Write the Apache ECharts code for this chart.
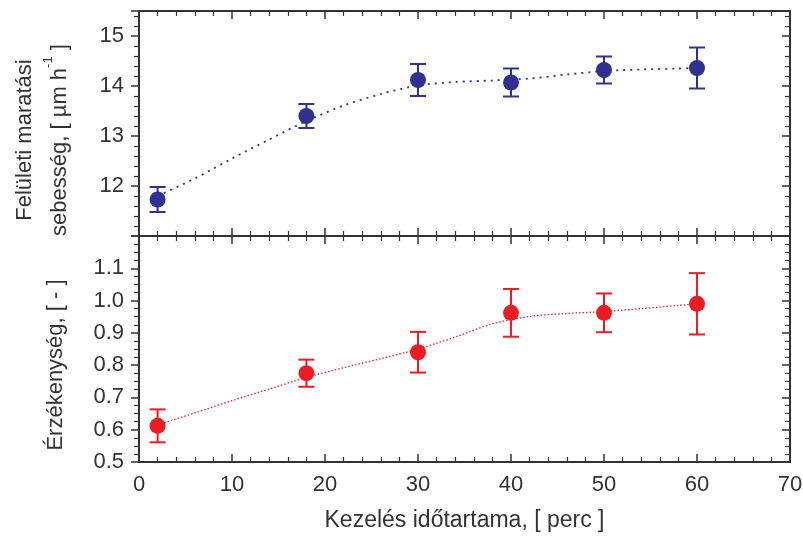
<!DOCTYPE html>
<html lang="hu" style="height: 100%">
<head>
  <meta charset="utf-8">
</head>
<body style="height: 100%; margin: 0; background: #fff">
  <div id="container" style="width: 803px; height: 536px"></div>

  <script type="text/javascript" src="https://fastly.jsdelivr.net/npm/echarts@6/dist/echarts.min.js"></script>
  <script type="text/javascript">
    // mért pontok
    var timeVals = [2, 18, 30, 40, 50, 60];
    var rateVals = [11.73, 13.40, 14.12, 14.07, 14.32, 14.36];
    var rateErr = [0.25, 0.24, 0.32, 0.28, 0.27, 0.41];
    var sensVals = [0.612, 0.775, 0.84, 0.962, 0.962, 0.99];
    var sensErr = [0.051, 0.042, 0.063, 0.074, 0.06, 0.095];

    // illesztett görbék
    var fitX = [2, 6, 10, 14, 18, 22, 26, 30, 34, 38, 42, 46, 50, 54, 58, 60];
    var rateFit = [11.80, 12.15, 12.55, 12.93, 13.30, 13.61, 13.84, 14.01, 14.08, 14.11, 14.15, 14.23, 14.30, 14.33, 14.35, 14.36];
    var sensFit = [0.615, 0.652, 0.69, 0.726, 0.762, 0.792, 0.82, 0.85, 0.887, 0.928, 0.951, 0.96, 0.966, 0.975, 0.985, 0.99];

    var blue = '#2e3192';
    var red = '#ed1c24';
    var ink = '#333333';
    var font = 'Liberation Sans, Arial, sans-serif';

    var dom = document.getElementById('container');
    var myChart = echarts.init(dom, null, { renderer: 'canvas' });

    function pairs(xs, ys) {
      return xs.map(function (x, i) { return [x, ys[i]]; });
    }
    function errData(xs, ys, es) {
      return xs.map(function (x, i) { return [x, ys[i] - es[i], ys[i] + es[i]]; });
    }

    function errorBar(color) {
      return function (params, api) {
        var x = api.value(0);
        var lo = api.coord([x, api.value(1)]);
        var hi = api.coord([x, api.value(2)]);
        var w = 8;
        var st = { stroke: color, lineWidth: 2 };
        return {
          type: 'group',
          children: [
            { type: 'line', shape: { x1: hi[0], y1: hi[1], x2: lo[0], y2: lo[1] }, style: st },
            { type: 'line', shape: { x1: hi[0] - w, y1: hi[1], x2: hi[0] + w, y2: hi[1] }, style: st },
            { type: 'line', shape: { x1: lo[0] - w, y1: lo[1], x2: lo[0] + w, y2: lo[1] }, style: st }
          ]
        };
      };
    }

    var lineAx = { show: true, onZero: false, lineStyle: { color: ink, width: 2 } };

    function xAx(grid, pos, labels) {
      return {
        type: 'value', gridIndex: grid, position: pos,
        min: 0, max: 70, interval: 10,
        axisLine: lineAx,
        axisTick: { show: true, inside: true, length: 8, lineStyle: { color: ink, width: 1.5 } },
        minorTick: { show: true, splitNumber: 5, length: 5, lineStyle: { color: ink, width: 1.2 } },
        splitLine: { show: false },
        axisLabel: { show: labels, color: ink, fontSize: 22, fontFamily: font, margin: 12 },
        name: labels ? 'Kezelés időtartama, [ perc ]' : '',
        nameLocation: 'middle',
        nameGap: 47,
        nameTextStyle: { color: ink, fontSize: 23, fontFamily: font }
      };
    }

    function yAx(grid, pos, opts) {
      var left = pos === 'left';
      return Object.assign({
        type: 'value', gridIndex: grid, position: pos,
        axisLine: lineAx,
        axisTick: { show: true, inside: !left, length: 8, lineStyle: { color: ink, width: 1.5 } },
        splitLine: { show: false },
        nameLocation: 'middle'
      }, opts);
    }

    var option = {
      animation: false,
      backgroundColor: '#ffffff',
      grid: [
        { left: 139, right: 13, top: 11, height: 225, containLabel: false, outerBoundsMode: 'none' },
        { left: 139, right: 13, top: 236, height: 226, containLabel: false, outerBoundsMode: 'none' }
      ],
      xAxis: [
        xAx(0, 'bottom', false),
        xAx(0, 'top', false),
        xAx(1, 'bottom', true),
        xAx(1, 'top', false)
      ],
      yAxis: [
        yAx(0, 'left', {
          min: 11, max: 15.5, interval: 1,
          minorTick: { show: true, splitNumber: 5, length: 5, lineStyle: { color: ink, width: 1.2 } },
          axisLabel: { color: ink, fontSize: 22, fontFamily: font, margin: 15, showMinLabel: false, showMaxLabel: false },
          name: '{a|Felületi maratási}\n{a|sebesség, [ µm h}{s|-1}{a| ]}',
          nameGap: 62,
          nameTextStyle: {
            color: ink, fontFamily: font, lineHeight: 35, padding: [0, 33, 0, 0],
            rich: {
              a: { fontSize: 22, fontFamily: font, color: ink, lineHeight: 35 },
              s: { fontSize: 13, fontFamily: font, color: ink, verticalAlign: 'top', lineHeight: 35, padding: [0, 0, 16, 0] }
            }
          }
        }),
        yAx(0, 'right', {
          min: 11, max: 15.5, interval: 1,
          minorTick: { show: true, splitNumber: 5, length: 5, lineStyle: { color: ink, width: 1.2 } },
          axisLabel: { show: false }
        }),
        yAx(1, 'left', {
          min: 0.5, max: 1.2, interval: 0.1,
          minorTick: { show: true, splitNumber: 4, length: 5, lineStyle: { color: ink, width: 1.2 } },
          axisLabel: {
            color: ink, fontSize: 22, fontFamily: font, margin: 15, showMaxLabel: false,
            formatter: function (v) { return v.toFixed(1); }
          },
          name: 'Érzékenység, [ - ]',
          nameGap: 72,
          nameTextStyle: { color: ink, fontSize: 22, fontFamily: font, padding: [0, 32, 0, 0] }
        }),
        yAx(1, 'right', {
          min: 0.5, max: 1.2, interval: 0.1,
          minorTick: { show: true, splitNumber: 4, length: 5, lineStyle: { color: ink, width: 1.2 } },
          axisLabel: { show: false }
        })
      ],
      series: [
        {
          type: 'line', xAxisIndex: 0, yAxisIndex: 0, smooth: 0.3, showSymbol: false,
          data: pairs(fitX, rateFit),
          lineStyle: { color: blue, width: 1.8, type: [2, 5] }, z: 1
        },
        {
          type: 'custom', xAxisIndex: 0, yAxisIndex: 0,
          renderItem: errorBar(blue), data: errData(timeVals, rateVals, rateErr), z: 2
        },
        {
          type: 'scatter', xAxisIndex: 0, yAxisIndex: 0, symbol: 'circle', symbolSize: 16,
          itemStyle: { color: blue, opacity: 1 }, data: pairs(timeVals, rateVals), z: 3
        },
        {
          type: 'line', xAxisIndex: 2, yAxisIndex: 2, smooth: 0.3, showSymbol: false,
          data: pairs(fitX, sensFit),
          lineStyle: { color: red, width: 1.3, type: [1.5, 2] }, z: 1
        },
        {
          type: 'custom', xAxisIndex: 2, yAxisIndex: 2,
          renderItem: errorBar(red), data: errData(timeVals, sensVals, sensErr), z: 2
        },
        {
          type: 'scatter', xAxisIndex: 2, yAxisIndex: 2, symbol: 'circle', symbolSize: 16,
          itemStyle: { color: red, opacity: 1 }, data: pairs(timeVals, sensVals), z: 3
        }
      ]
    };

    myChart.setOption(option);
    window.addEventListener('resize', myChart.resize);
  </script>
</body>
</html>
